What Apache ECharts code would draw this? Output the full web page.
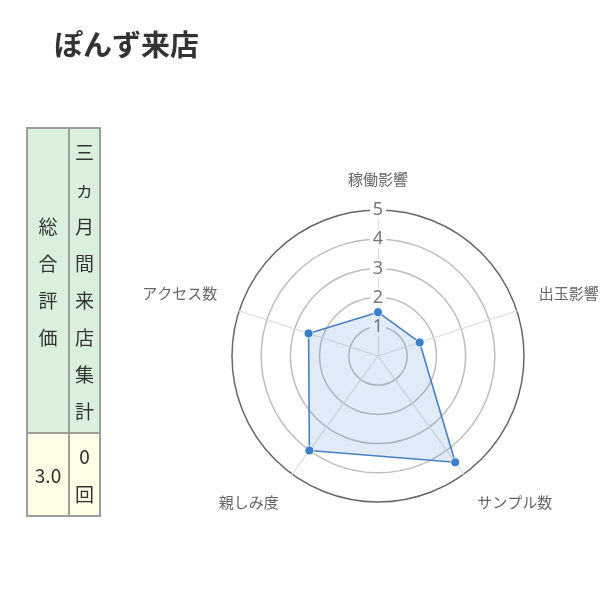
<!DOCTYPE html>
<html>
<head>
<meta charset="utf-8">
<script src="https://cdn.jsdelivr.net/npm/echarts@6/dist/echarts.min.js"></script>
<style>
  html, body { margin: 0; padding: 0; background: #fff; }
  #wrap { position: relative; width: 600px; height: 592px; overflow: hidden; font-family: "Noto Sans CJK JP", "Noto Sans", sans-serif; }
  #chart { position: absolute; left: 0; top: 0; width: 600px; height: 592px; }
  #tbl { position: absolute; left: 26px; top: 127px; border-collapse: collapse; table-layout: fixed; color: #333; font-size: 19px; }
  #tbl td { border: 2px solid #9d9d9d; padding: 0; text-align: center; vertical-align: middle; line-height: 37px; }
  #tbl .h { background: #daf0dc; }
  #tbl .d { background: #fffde6; }
</style>
</head>
<body>
<div id="wrap">
  <div id="chart"></div>
  <table id="tbl">
    <tr style="height:305px"><td class="h" id="h1" style="width:40px"></td><td class="h" id="h2" style="width:29px"></td></tr>
    <tr style="height:83px"><td class="d" id="d1"></td><td class="d" id="d2" style="line-height:38px"></td></tr>
  </table>
</div>
<script>
// ---- data ----
const titleText = 'ぽんず来店';
const indicatorNames = ['稼働影響', 'アクセス数', '親しみ度', 'サンプル数', '出玉影響'];
const scores = [1.5, 2.5, 4.0, 4.5, 1.5];
const maxScore = 5;
const tableHeaders = ['総合評価', '三ヵ月間来店集計'];
const tableValues = ['3.0', '0回'];

// ---- table ----
function vert(s) { return Array.from(s).join('<br>'); }
document.getElementById('h1').innerHTML = vert(tableHeaders[0]);
document.getElementById('h2').innerHTML = vert(tableHeaders[1]);
document.getElementById('d1').innerHTML = tableValues[0];
document.getElementById('d2').innerHTML = vert(tableValues[1]);

// ---- chart ----
const upNames = ['アクセス数', '出玉影響'];
const downNames = ['親しみ度', 'サンプル数'];
const chart = echarts.init(document.getElementById('chart'));
chart.setOption({
  animation: false,
  title: {
    text: titleText,
    left: 49,
    top: 25,
    textStyle: { fontSize: 29, fontWeight: 'bold', color: '#333', fontFamily: 'Noto Sans CJK JP' }
  },
  radar: {
    center: [378, 356],
    radius: 146,
    startAngle: 90,
    splitNumber: 5,
    shape: 'circle',
    nameGap: 23,
    indicator: indicatorNames.map((n, i) => ({
      name: n, min: 0, max: maxScore,
      axisLabel: { show: i === 0 }
    })),
    axisName: {
      color: '#666',
      fontSize: 15,
      fontFamily: 'Noto Sans CJK JP',
      formatter: function (name) {
        if (upNames.indexOf(name) >= 0) return '{up|' + name + '}';
        if (downNames.indexOf(name) >= 0) return '{down|' + name + '}';
        return name;
      },
      rich: {
        up: { padding: [0, 0, 21, 0], color: '#666', fontSize: 15, fontFamily: 'Noto Sans CJK JP' },
        down: { padding: [20, 0, 0, 0], color: '#666', fontSize: 15, fontFamily: 'Noto Sans CJK JP' }
      }
    },
    axisLine: { lineStyle: { color: '#dddddd', width: 1.2 } },
    axisTick: { show: false },
    axisLabel: {
      show: true,
      showMinLabel: false,
      color: '#777',
      fontSize: 18,
      fontFamily: 'Noto Sans',
      margin: 0,
      align: 'center',
      verticalAlign: 'middle',
      backgroundColor: '#fff',
      padding: [0, 3]
    },
    splitLine: {
      lineStyle: {
        color: ['#bdbdbd', '#bdbdbd', '#bdbdbd', '#bdbdbd', '#bdbdbd', '#666666'],
        width: 1.5
      }
    },
    splitArea: { show: false }
  },
  series: [{
    type: 'radar',
    symbol: 'circle',
    symbolSize: 9,
    itemStyle: { color: '#3a7fca', borderColor: '#ffffff', borderWidth: 0.8 },
    lineStyle: { color: '#4a82c0', width: 1.6 },
    areaStyle: { color: 'rgba(54,126,200,0.22)' },
    data: [{ value: scores, name: titleText }]
  }]
});
</script>
</body>
</html>
